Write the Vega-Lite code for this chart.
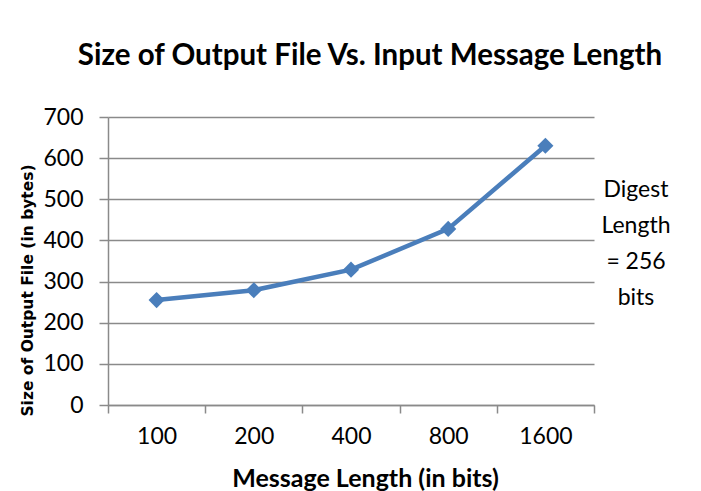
{
  "$schema": "https://vega.github.io/schema/vega-lite/v6.json",
  "width": 486,
  "height": 288,
  "autosize": {"type": "none"},
  "padding": {"left": 108, "top": 117, "right": 107, "bottom": 86},
  "background": "white",
  "title": {
    "text": "Size of Output File Vs. Input Message Length",
    "font": "Lato",
    "fontSize": 29.5,
    "fontWeight": "bold",
    "color": "black",
    "anchor": "middle",
    "dx": 19,
    "offset": 35
  },
  "data": {
    "values": [
      {"length": "100", "size": 255, "series": "Digest Length = 256 bits"},
      {"length": "200", "size": 279, "series": "Digest Length = 256 bits"},
      {"length": "400", "size": 329, "series": "Digest Length = 256 bits"},
      {"length": "800", "size": 428, "series": "Digest Length = 256 bits"},
      {"length": "1600", "size": 630, "series": "Digest Length = 256 bits"}
    ]
  },
  "mark": {"type": "line", "strokeWidth": 4.5, "point": {"shape": "diamond", "size": 260, "filled": true, "opacity": 1}},
  "encoding": {
    "x": {
      "field": "length",
      "type": "ordinal",
      "sort": null,
      "bandPosition": 0.5,
      "scale": {"type": "band", "paddingInner": 0, "paddingOuter": 0},
      "axis": {
        "title": "Message Length (in bits)",
        "titleFont": "Lato",
        "titleFontSize": 25,
        "titleFontWeight": "bold",
        "titleColor": "black",
        "titlePadding": 18,
        "titleX": 257,
        "labelFont": "Lato",
        "labelFontSize": 23,
        "labelColor": "black",
        "labelAngle": 0,
        "labelPadding": 12,
        "tickBand": "extent",
        "tickSize": 8,
        "tickColor": "#8a8a8a",
        "tickWidth": 1.5,
        "domainColor": "#8a8a8a",
        "domainWidth": 1.5,
        "grid": false
      }
    },
    "y": {
      "field": "size",
      "type": "quantitative",
      "scale": {"domain": [0, 700], "nice": false},
      "axis": {
        "title": "Size of Output File (in bytes)",
        "titleFont": "DejaVu Sans",
        "titleFontSize": 15.5,
        "titleFontWeight": "bold",
        "titleColor": "black",
        "titleX": -73,
        "titleY": 173,
        "values": [0, 100, 200, 300, 400, 500, 600, 700],
        "labelFont": "Lato",
        "labelFontSize": 23,
        "labelColor": "black",
        "labelPadding": 16,
        "tickSize": 9,
        "tickColor": "#8a8a8a",
        "tickWidth": 1.5,
        "domainColor": "#8a8a8a",
        "domainWidth": 1.5,
        "grid": true,
        "gridColor": "#8a8a8a",
        "gridWidth": 1.5
      }
    },
    "color": {
      "field": "series",
      "type": "nominal",
      "scale": {"range": ["#4A7EBB"]},
      "legend": {
        "title": ["Digest", "Length", "= 256", "bits"],
        "titleFont": "Lato",
        "titleFontSize": 23,
        "titleFontWeight": "normal",
        "titleColor": "black",
        "titleLineHeight": 36,
        "titleAlign": "center",
        "titleAnchor": "start",
        "titleLimit": 200,
        "orient": "none",
        "legendX": 494,
        "legendY": 62,
        "padding": 0,
        "symbolOpacity": 0,
        "symbolSize": 0,
        "symbolStrokeWidth": 0,
        "labelExpr": "''",
        "labelFontSize": 1
      }
    }
  },
  "config": {"view": {"stroke": null}}
}
